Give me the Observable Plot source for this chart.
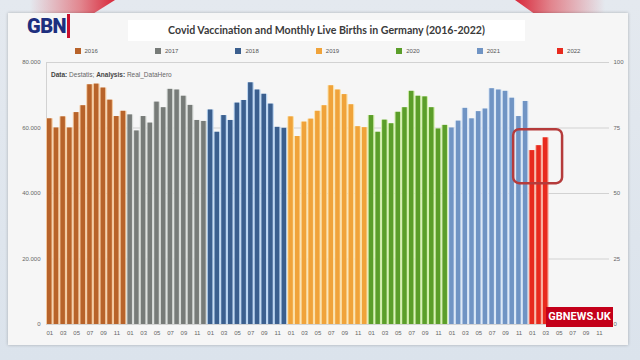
<!DOCTYPE html>
<html><head><meta charset="utf-8">
<script src="https://cdn.jsdelivr.net/npm/d3@7"></script>
<script src="https://cdn.jsdelivr.net/npm/@observablehq/plot@0.6"></script>
<style>
html,body{margin:0;padding:0}
body{width:640px;height:360px;overflow:hidden;position:relative;background:linear-gradient(180deg,#e4e9ef 0%,#dbe3ec 100%);font-family:"Liberation Sans",Arial,sans-serif}
.abs{position:absolute}
#swL{left:30px;top:0;width:85px;height:16px;background:linear-gradient(90deg,rgba(230,120,130,0) 0%,rgba(225,90,100,0.7) 60%,#d8283a 100%);clip-path:polygon(0 0,100% 0,70% 100%,0 100%)}
#swR{left:515px;top:0;width:90px;height:16px;background:linear-gradient(270deg,rgba(230,120,130,0) 0%,rgba(225,90,100,0.7) 60%,#d8283a 100%);clip-path:polygon(0 0,100% 0,100% 100%,25% 100%)}
#panel{left:8px;top:13px;width:620px;height:332px;background:#f6f6f6;box-shadow:0 0 3px rgba(0,0,0,0.25)}
#logo{left:27px;top:14px;font-family:"Roboto",sans-serif;font-weight:900;font-size:20px;color:#1d2f7e;letter-spacing:-0.5px}
#logo span{color:#1d2f7e;border-right:3px solid #c8102e;padding-right:1px}
#titlebox{left:128px;top:20px;width:397px;height:21px;background:#fff}
#title{left:128px;top:24px;width:397px;text-align:center;font-family:"Lato",sans-serif;font-weight:700;font-size:10.6px;color:#3a3a3a}
#legend{left:46px;top:48px;width:563px;display:flex}
#legend .cell{flex:1;display:flex;justify-content:center;align-items:center;font-size:6px;color:#555}
#legend .sw{width:6px;height:6px;margin-right:4px}
#note{left:51px;top:71px;font-size:6.5px;color:#666}
#note b{color:#444}
#chart{left:0;top:40px}
#gbnews{left:546px;top:307px;width:67px;height:20px;background:#c4001a;color:#fff;font-family:"Roboto",sans-serif;font-weight:700;font-size:11px;line-height:20px;text-align:center}
</style></head><body>
<div id="swL" class="abs"></div>
<div id="swR" class="abs"></div>
<div id="panel" class="abs"></div>
<div id="logo" class="abs">GB<span>N</span></div>
<div id="titlebox" class="abs"></div>
<div id="title" class="abs">Covid Vaccination and Monthly Live Births in Germany (2016-2022)</div>
<div id="chart" class="abs"></div>
<div id="legend" class="abs"></div>
<div id="note" class="abs"><b>Data:</b> Destatis; <b>Analysis:</b> Real_DataHero</div>
<div id="gbnews" class="abs">GBNEWS.UK</div>
<script>
const years = ["2016","2017","2018","2019","2020","2021","2022"];
const monthLabels = ["01","02","03","04","05","06","07","08","09","10","11","12"];
const births2016 = [62800, 60000, 63400, 60000, 64700, 66800, 73200, 73400, 72200, 68500, 63500, 65100];
const births2017 = [64000, 59100, 63500, 61500, 67900, 66200, 71800, 71600, 69700, 66900, 62300, 62000];
const births2018 = [65500, 58700, 63800, 62300, 67600, 68400, 73800, 71600, 70300, 67300, 60200, 59900];
const births2019 = [63400, 57400, 61800, 62700, 65100, 66800, 72900, 71600, 70200, 67100, 60400, 60100];
const births2020 = [63800, 58700, 62400, 61300, 64800, 66200, 71200, 69700, 69500, 66200, 59700, 60800];
const births2021 = [60000, 62100, 66000, 62800, 65000, 65800, 72000, 71600, 71200, 69100, 63500, 68100];
const births2022 = [53100, 54600, 57000];
const leftTicks = [0, 20000, 40000, 60000, 80000];
const rightLabels = ["0", "25", "50", "75", "100"];
const darkColors = ["#b8632a", "#777b78", "#3b5f8e", "#f0a33a", "#5b9e2a", "#7094c4", "#e82a1e"];
const lightColors = ["#f3c9a0", "#d6dad7", "#b9d4f0", "#fbe0a8", "#d1efaa", "#d8e6f6", "#f8b0a0"];
// highlight box around early 2022 (month index range, birth range)
const highlight = [{x1: 69.2, x2: 76.5, y1: 43000, y2: 59500}];

const series = [births2016, births2017, births2018, births2019, births2020, births2021, births2022];
const rows = [];
years.forEach((y, yi) => series[yi].forEach((v, mi) => rows.push({i: yi * 12 + mi, year: y, yi, v})));
const nMonths = years.length * 12;
const ticksX = d3.range(nMonths).filter(i => i % 2 === 0);
const fmtDE = d => d3.format(",")(d).replace(/,/g, ".");

const plot = Plot.plot({
  width: 640, height: 305,
  marginTop: 22, marginBottom: 21, marginLeft: 46, marginRight: 31,
  x: {domain: [-0.5, nMonths - 0.5], label: null},
  y: {domain: [0, 80000], label: null},
  color: {domain: years, range: darkColors},
  style: {background: "transparent", fontFamily: "Liberation Sans, Arial, sans-serif", fontSize: "6px", color: "#666"},
  marks: [
    Plot.ruleY(leftTicks, {stroke: "#d2d2d2", strokeWidth: 1}),
    Plot.ruleX([-0.5], {stroke: "#d2d2d2"}),
    Plot.rectY(rows, {x1: d => d.i - 0.5, x2: d => d.i + 0.5, y: "v", fill: d => lightColors[d.yi]}),
    Plot.rectY(rows, {x1: d => d.i - 0.5, x2: d => d.i + 0.5, y: "v", fill: "year", insetLeft: 1, insetRight: 1.2}),
    Plot.rect(highlight, {x1: "x1", x2: "x2", y1: "y1", y2: "y2", fill: "none", stroke: "#b53b3b", strokeWidth: 2.5, rx: 6}),
    Plot.axisY({ticks: leftTicks, tickFormat: fmtDE, anchor: "left", tickSize: 0, tickPadding: 6, label: null, fill: "#666"}),
    Plot.axisY({ticks: leftTicks, tickFormat: (d, i) => rightLabels[leftTicks.indexOf(d)], anchor: "right", tickSize: 0, tickPadding: 4, label: null, fill: "#666"}),
    Plot.axisX({ticks: ticksX, tickFormat: i => monthLabels[i % 12], anchor: "bottom", tickSize: 0, tickPadding: 6, label: null, fill: "#666"})
  ]
});
document.getElementById("chart").appendChild(plot);

const legend = document.getElementById("legend");
years.forEach((y, yi) => {
  const c = document.createElement("div");
  c.className = "cell";
  c.innerHTML = `<div class="sw" style="background:${darkColors[yi]}"></div><span>${y}</span>`;
  legend.appendChild(c);
});
</script>
</body></html>
